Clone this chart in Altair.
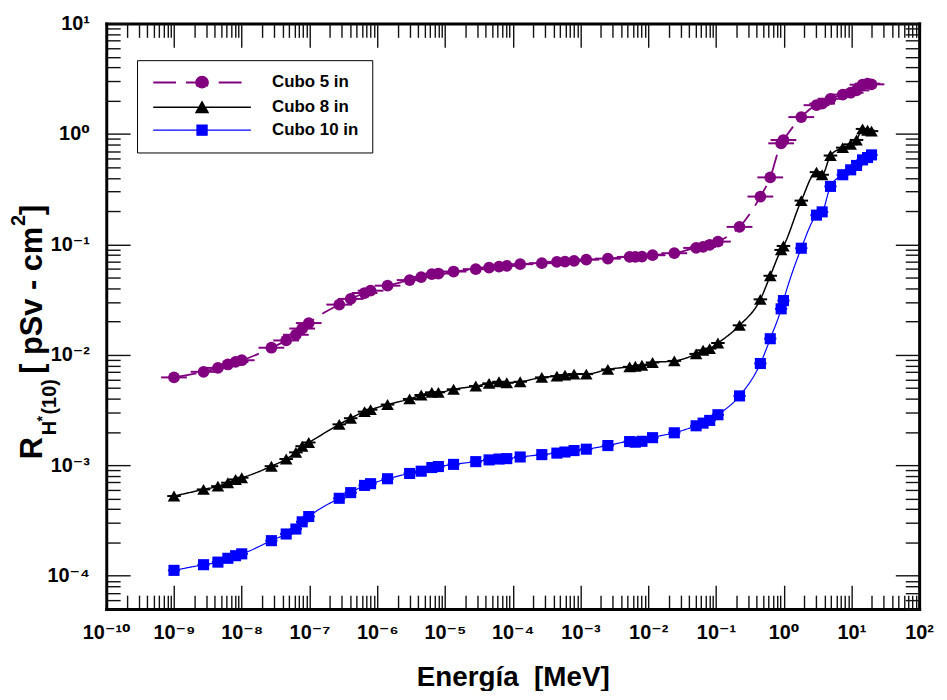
import altair as alt
import pandas as pd

# ---------------- data ----------------
series_names = ["Cubo 5 in", "Cubo 8 in", "Cubo 10 in"]
series_colors = ["#800080", "#000000", "#0000ff"]

energy_mev = [1.0e-9, 2.73e-9, 4.45e-9, 6.24e-9, 8.1e-9, 1.0e-8, 2.74e-8, 4.53e-8, 6.3e-8, 7.8e-8, 9.75e-8,
              2.75e-7, 4.06e-7, 6.5e-7, 7.98e-7, 1.42e-6, 3.01e-6, 4.46e-6, 6.4e-6, 8.0e-6,
              1.34e-5, 2.85e-5, 4.48e-5, 6.28e-5, 8.17e-5,
              1.29e-4, 2.69e-4, 4.49e-4, 5.91e-4, 8.05e-4, 1.22e-3, 2.54e-3, 5.32e-3, 6.46e-3, 8.09e-3,
              1.16e-2, 2.43e-2,
              5.1e-2, 6.46e-2, 8.09e-2, 0.107, 0.223, 0.453, 0.634, 0.918, 0.993,
              1.82, 3.05, 3.70, 4.91, 7.45, 9.75, 11.9, 14.6, 17.3, 19.8]

cubo5 = [6.25e-3, 7.02e-3, 7.62e-3, 8.18e-3, 8.63e-3, 8.94e-3, 1.16e-2, 1.35e-2, 1.52e-2, 1.73e-2, 1.94e-2,
         2.85e-2, 3.21e-2, 3.63e-2, 3.81e-2, 4.23e-2, 4.75e-2, 5.06e-2, 5.38e-2, 5.45e-2,
         5.68e-2, 5.97e-2, 6.17e-2, 6.30e-2, 6.39e-2,
         6.62e-2, 6.76e-2, 6.95e-2, 6.99e-2, 7.09e-2, 7.28e-2, 7.43e-2, 7.70e-2, 7.70e-2, 7.75e-2,
         7.98e-2, 8.32e-2,
         9.29e-2, 9.48e-2, 9.89e-2, 0.106, 0.144, 0.271, 0.404, 0.822, 0.881,
         1.42, 1.82, 1.88, 2.08, 2.27, 2.36, 2.48, 2.79, 2.85, 2.81]

cubo8 = [5.27e-4, 6.05e-4, 6.48e-4, 6.96e-4, 7.45e-4, 7.72e-4, 9.82e-4, 1.14e-3, 1.31e-3, 1.49e-3, 1.61e-3,
         2.35e-3, 2.67e-3, 3.06e-3, 3.19e-3, 3.55e-3, 3.99e-3, 4.33e-3, 4.58e-3, 4.58e-3,
         4.88e-3, 5.22e-3, 5.52e-3, 5.71e-3, 5.59e-3,
         5.71e-3, 6.25e-3, 6.42e-3, 6.56e-3, 6.70e-3, 6.70e-3, 7.38e-3, 7.79e-3, 7.89e-3, 8.05e-3,
         8.53e-3, 8.81e-3,
         1.02e-2, 1.10e-2, 1.14e-2, 1.28e-2, 1.85e-2, 3.18e-2, 5.20e-2, 8.91e-2, 9.68e-2,
         0.249, 0.451, 0.427, 0.637, 0.751, 0.805, 0.882, 1.11, 1.08, 1.06]

cubo10 = [1.12e-4, 1.26e-4, 1.33e-4, 1.44e-4, 1.52e-4, 1.58e-4, 2.08e-4, 2.39e-4, 2.65e-4, 3.08e-4, 3.44e-4,
          5.03e-4, 5.66e-4, 6.58e-4, 6.82e-4, 7.56e-4, 8.44e-4, 8.85e-4, 9.55e-4, 9.75e-4,
          1.02e-3, 1.08e-3, 1.12e-3, 1.14e-3, 1.15e-3,
          1.19e-3, 1.25e-3, 1.29e-3, 1.32e-3, 1.36e-3, 1.40e-3, 1.51e-3, 1.64e-3, 1.62e-3, 1.65e-3,
          1.78e-3, 1.97e-3,
          2.28e-3, 2.41e-3, 2.55e-3, 2.87e-3, 4.25e-3, 8.35e-3, 1.40e-2, 2.61e-2, 3.10e-2,
          9.23e-2, 0.184, 0.197, 0.335, 0.427, 0.473, 0.518, 0.582, 0.611, 0.646]

# half width of the horizontal (energy) error bars, in decades
err_half_decades = [0.19, 0.10, 0.09]

x_major = [10.0 ** k for k in range(-10, 3)]
x_minor = [m * 10.0 ** k for k in range(-10, 2) for m in range(2, 10)]
y_major = [10.0 ** k for k in range(-4, 2)]
y_minor = [m * 10.0 ** k for k in range(-5, 1) for m in range(2, 10) if 5e-5 <= m * 10.0 ** k <= 10]

# ---------------- table ----------------
rows = []
for name, vals, eh in zip(series_names, [cubo5, cubo8, cubo10], err_half_decades):
    f = 10 ** eh
    for e, r in zip(energy_mev, vals):
        rows.append({"series": name, "E": e, "R": r, "Elo": e / f, "Ehi": e * f})
df = pd.DataFrame(rows)

FONT = "Liberation Sans, Arial, DejaVu Sans"

xscale = alt.Scale(type="log", domain=[1e-10, 1e2], nice=False)
yscale = alt.Scale(type="log", domain=[5e-5, 10], nice=False)
cscale = alt.Scale(domain=series_names, range=series_colors)
dash_scale = alt.Scale(domain=series_names, range=[[23, 10], [1, 0], [1, 0]])
width_scale = alt.Scale(domain=series_names, range=[1.8, 1.2, 1.2])

sup = {"-": "⁻", "0": "⁰", "1": "¹", "2": "²", "3": "³", "4": "⁴",
       "5": "⁵", "6": "⁶", "7": "⁷", "8": "⁸", "9": "⁹"}
expr = "toString(round(log(datum.value)/LN10))"
for k, v in sup.items():
    expr = f"replace({expr}, '{k}', '{v}')"
label_expr = "'10' + " + expr

MAJ, MIN = 24, 14


def axis(orient, values, size, labels=False, title=None, **kw):
    return alt.Axis(orient=orient, values=values, tickSize=size, offset=-size,
                    labels=labels, domain=False, grid=False, ticks=True,
                    tickColor="#111111", tickWidth=1.4, title=title,
                    labelExpr=label_expr, labelFont=FONT, labelFontWeight="bold",
                    labelColor="black", labelOverlap=False, labelFlush=False,
                    labelBound=False, **kw)


def frame(orient):
    return alt.Axis(orient=orient, offset=0, ticks=False, labels=False, grid=False,
                    domain=True, domainColor="black", domainWidth=3, domainCap="square",
                    title=None)


ax_bottom_major = axis("bottom", x_major, MAJ, labels=True, title="Energía\u00a0\u00a0[MeV]",
                       labelFontSize=20, labelPadding=14, titleFont=FONT,
                       titleFontSize=28, titleFontWeight="bold", titleColor="black",
                       titlePadding=21)
ax_bottom_minor = axis("bottom", x_minor, MIN)
ax_top_major = axis("top", x_major, MAJ)
ax_top_minor = axis("top", x_minor, MIN)
ax_left_major = axis("left", y_major, MAJ, labels=True, labelFontSize=20, labelPadding=17)
ax_left_minor = axis("left", y_minor, MIN)
ax_right_major = axis("right", y_major, MAJ)
ax_right_minor = axis("right", y_minor, MIN)

base = alt.Chart(df)
color_enc = alt.Color("series:N", scale=cscale)

# legend: line stub + marker symbols (custom paths)
stub = "M-8.2,0H8.2"
legend_paths = [
    stub + "M-1,0A1,1,0,1,1,1,0A1,1,0,1,1,-1,0Z",
    stub + "M0,-0.9L1,0.85L-1,0.85Z",
    stub + "M-0.85,-0.85H0.85V0.85H-0.85Z",
]
leg = alt.Legend(title=None, orient="none", legendX=31, legendY=37, strokeColor="black",
                 fillColor="white", padding=14, symbolSize=144, symbolStrokeWidth=1.2,
                 symbolOffset=43, labelOffset=62, labelFont=FONT, labelFontSize=17,
                 labelFontWeight="bold", labelColor="black", rowPadding=5,
                 symbolFillColor="white", symbolStrokeColor="black")

legend_layer = base.transform_filter("false").mark_point(
    filled=False, size=144, strokeWidth=1.2, opacity=1).encode(
    x=alt.X("E:Q", scale=xscale, axis=frame("top")),
    y=alt.Y("R:Q", scale=yscale, axis=frame("right")),
    color=alt.Color("series:N", scale=cscale, legend=leg),
    fill=alt.Fill("series:N", scale=alt.Scale(domain=series_names, range=series_colors), legend=leg),
    shape=alt.Shape("series:N", scale=alt.Scale(domain=series_names, range=legend_paths), legend=leg),
    strokeDash=alt.StrokeDash("series:N", scale=dash_scale, legend=leg),
)

errbars = base.mark_rule(strokeWidth=2).encode(
    x=alt.X("Elo:Q", scale=xscale, axis=ax_bottom_major),
    x2="Ehi:Q",
    y=alt.Y("R:Q", scale=yscale, axis=ax_left_major),
    color=color_enc,
)

lines = base.mark_line(interpolate="monotone").encode(
    x=alt.X("E:Q", scale=xscale, axis=ax_bottom_minor),
    y=alt.Y("R:Q", scale=yscale, axis=ax_left_minor),
    color=color_enc,
    strokeDash=alt.StrokeDash("series:N", scale=dash_scale),
    strokeWidth=alt.StrokeWidth("series:N", scale=width_scale),
)

pts5 = base.transform_filter(alt.datum.series == series_names[0]).mark_point(
    filled=True, shape="circle", size=140, opacity=1).encode(
    x=alt.X("E:Q", scale=xscale, axis=ax_top_major),
    y=alt.Y("R:Q", scale=yscale, axis=ax_right_major),
    color=color_enc,
)
pts8 = base.transform_filter(alt.datum.series == series_names[1]).mark_point(
    filled=True, shape="triangle-up", size=160, opacity=1).encode(
    x=alt.X("E:Q", scale=xscale, axis=ax_top_minor),
    y=alt.Y("R:Q", scale=yscale, axis=ax_right_minor),
    color=color_enc,
)
pts10 = base.transform_filter(alt.datum.series == series_names[2]).mark_point(
    filled=True, shape="square", size=125, opacity=1).encode(
    x=alt.X("E:Q", scale=xscale, axis=frame("bottom")),
    y=alt.Y("R:Q", scale=yscale, axis=frame("left")),
    color=color_enc,
)

# y-axis title pieces (rotated text)
one = pd.DataFrame({"k": [0]})


def ttext(txt, x, y, size):
    return alt.Chart(one).mark_text(angle=270, align="left", baseline="alphabetic",
                                    font=FONT, fontSize=size, fontWeight="bold",
                                    color="black").encode(
        x=alt.value(x), y=alt.value(y), text=alt.value(txt))


title_layers = [
    ttext("R", -65, 439, 31),
    ttext("H", -51, 415, 20),
    ttext("*", -60, 401, 14),
    ttext("(10)", -51, 394, 20),
    ttext("[ pSv - cm", -65, 353, 31),
    ttext("2", -82, 204, 20),
    ttext("\u00a0]", -65, 193, 31),
]

chart = alt.layer(legend_layer, errbars, lines, pts5, pts8, pts10, *title_layers).resolve_axis(
    x="independent", y="independent"
).properties(
    width=819, height=590,
    padding={"left": 99, "top": 13, "right": 20, "bottom": 80},
    autosize=alt.AutoSizeParams(type="none"),
).configure_view(stroke="black", strokeWidth=3).configure(background="white")

chart.save("out.html", embed_options={"renderer": "svg", "actions": False})
